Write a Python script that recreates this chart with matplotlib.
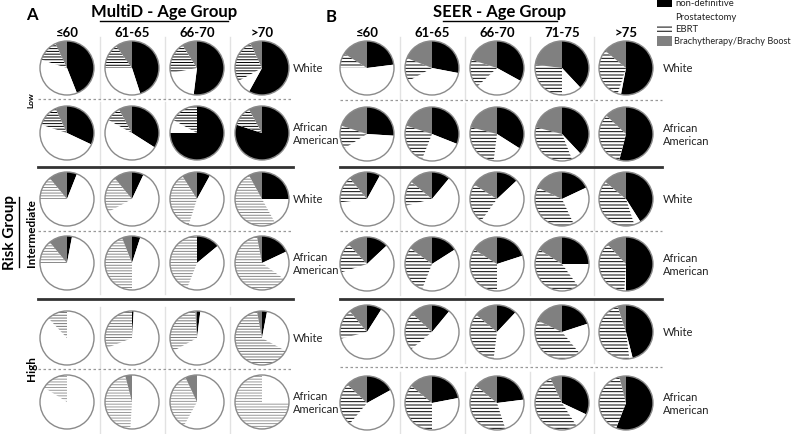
import matplotlib
matplotlib.use('Agg')
import matplotlib.pyplot as plt
import matplotlib.patches as mpatches

plt.rcParams['font.family'] = ['Lato', 'DejaVu Sans']
plt.rcParams['hatch.linewidth'] = 0.7

# treatment shares (%) per row: Low W, Low AA, Int W, Int AA, High W, High AA
treatments = ['non-definitive', 'Prostatectomy', 'EBRT', 'Brachytherapy/Brachy Boost']
races = ['White', 'African\nAmerican']
risk_groups = ['Low', 'Intermediate', 'High']

md_ages = ['≤60', '61-65', '66-70', '>70']
md_nondef = [[44, 45, 52, 58], [32, 34, 75, 80], [6, 7, 8, 25], [3, 5, 14, 18], [0, 1, 2, 3], [0, 0, 0, 0]]
md_prost = [[36, 30, 20, 9], [48, 49, 8, 0], [69, 60, 47, 17], [72, 45, 42, 17], [88, 68, 65, 30], [84, 51, 58, 25]]
md_ebrt = [[13, 15, 19, 26], [13, 9, 17, 12], [14, 22, 36, 50], [14, 44, 44, 62], [12, 31, 32, 64], [16, 45, 35, 75]]
md_brachy = [[7, 10, 9, 7], [7, 8, 0, 8], [11, 11, 9, 8], [11, 6, 0, 3], [0, 0, 1, 3], [0, 4, 7, 0]]

seer_ages = ['≤60', '61-65', '66-70', '71-75', '>75']
seer_nondef = [[23, 28, 33, 38, 53], [26, 31, 34, 38, 54], [8, 11, 13, 18, 41], [13, 16, 20, 25, 50], [9, 11, 12, 20, 46], [17, 22, 23, 32, 56]]
seer_prost = [[52, 39, 30, 12, 2], [40, 25, 18, 6, 0], [65, 60, 47, 25, 4], [57, 40, 30, 15, 1], [62, 53, 40, 19, 2], [44, 28, 22, 9, 0]]
seer_ebrt = [[9, 14, 17, 27, 31], [14, 24, 27, 35, 33], [16, 15, 24, 39, 41], [18, 29, 34, 44, 37], [18, 23, 34, 43, 47], [26, 36, 41, 52, 40]]
seer_brachy = [[16, 19, 20, 23, 14], [20, 20, 21, 21, 13], [11, 14, 16, 18, 14], [12, 15, 16, 16, 12], [11, 13, 14, 18, 5], [13, 14, 14, 7, 4]]

GRAY = '#808080'
R = 27

fig = plt.figure(figsize=(8, 4.35), dpi=100)
ax = fig.add_axes([0, 0, 1, 1])


def draw_panel(xs, ys, nondef, prost, ebrt, brachy, hatch_colors, hatch):
    for i, y in enumerate(ys):
        for j, x in enumerate(xs):
            vals = [nondef[i][j], prost[i][j], ebrt[i][j], brachy[i][j]]
            wedges, _ = ax.pie(vals, colors=['black', 'white', 'white', GRAY],
                               startangle=-90, counterclock=True,
                               center=(x, y), radius=R, frame=True,
                               hatch=['', '', hatch, ''],
                               wedgeprops=dict(linewidth=0))
            wedges[2].set_edgecolor(hatch_colors[i])
            ax.add_patch(mpatches.Circle((x, y), R, fill=False, edgecolor='#8a8a8a', lw=1, zorder=3))
        # light column separators
        for j in range(len(xs) - 1):
            xm = (xs[j] + xs[j + 1]) / 2
            ax.plot([xm, xm], [y - 31, y + 31], color='#e2e2e2', lw=1, zorder=0)


# panel A
a_x = [67, 132, 197, 262]
a_y = [69, 134, 200, 264, 339, 403]
draw_panel(a_x, a_y, md_nondef, md_prost, md_ebrt, md_brachy,
           ['black', 'black', '#888888', '#888888', '#777777', '#999999'], '------')

# panel B
b_x = [367, 432, 497, 562, 626]
b_y = [69, 135, 200, 265, 333, 404]
draw_panel(b_x, b_y, seer_nondef, seer_prost, seer_ebrt, seer_brachy, ['black'] * 6, '-----')

# separators
for x0, x1 in [(38, 293), (340, 662)]:
    for yl in [168, 300]:
        ax.plot([x0, x1], [yl, yl], color='#333333', lw=2, zorder=0)
ax.plot([38, 293], [100, 100], color='#999999', lw=0.9, ls=(0, (2, 2)))
ax.plot([38, 293], [232, 232], color='#999999', lw=0.9, ls=(0, (2, 2)))
ax.plot([38, 293], [370, 370], color='#999999', lw=0.9, ls=(0, (2, 2)))
ax.plot([340, 662], [101, 101], color='#999999', lw=0.9, ls=(0, (2, 2)))
ax.plot([340, 662], [232, 232], color='#999999', lw=0.9, ls=(0, (2, 2)))
ax.plot([340, 662], [368, 368], color='#999999', lw=0.9, ls=(0, (2, 2)))

# race labels
for ys, xl in [(a_y, 293), (b_y, 663)]:
    for i, y in enumerate(ys):
        ax.text(xl, y, races[i % 2], fontsize=8, ha='left', va='center',
                color='#222222', linespacing=1.3)

# column headers
for x, lab in zip(a_x, md_ages):
    ax.text(x, 33, lab, fontsize=9.5, fontweight='bold', ha='center', va='center')
for x, lab in zip(b_x, seer_ages):
    ax.text(x, 33, lab, fontsize=9.5, fontweight='bold', ha='center', va='center')

ax.text(32, 15, 'A', fontsize=12, fontweight='bold', ha='center', va='center')
ax.text(331, 17, 'B', fontsize=12, fontweight='bold', ha='center', va='center')
ax.text(164, 12, 'MultiD - Age Group', fontsize=12, fontweight='bold', ha='center', va='center')
ax.plot([100, 228], [22, 22], color='black', lw=1)
ax.text(500, 12, 'SEER - Age Group', fontsize=12, fontweight='bold', ha='center', va='center')
ax.plot([443, 557], [22, 22], color='black', lw=1)

# risk group labels
ax.text(10, 233, 'Risk Group', fontsize=11, fontweight='bold', rotation=90, ha='center', va='center')
ax.plot([18.5, 18.5], [198, 268], color='black', lw=1)
ax.text(31, 100, risk_groups[0], fontsize=6, fontweight='bold', rotation=90, ha='center', va='center')
ax.text(31, 233, risk_groups[1], fontsize=8.5, fontweight='bold', rotation=90, ha='center', va='center')
ax.text(31, 369, risk_groups[2], fontsize=8.5, fontweight='bold', rotation=90, ha='center', va='center')

# legend
ax.add_patch(mpatches.Rectangle((657, -2), 15, 10, facecolor='black', edgecolor='black', lw=0))
ax.text(675, 4, treatments[0], fontsize=6.8, ha='left', va='center', color='#222222')
ax.text(675, 17, treatments[1], fontsize=6.8, ha='left', va='center', color='#222222')
ax.add_patch(mpatches.Rectangle((657, 26), 15, 8, facecolor='white', edgecolor='black', lw=0, hatch='----'))
ax.text(675, 30, treatments[2], fontsize=6.8, ha='left', va='center', color='#222222')
ax.add_patch(mpatches.Rectangle((657, 37), 15, 10, facecolor=GRAY, edgecolor=GRAY, lw=0))
ax.text(674, 42, treatments[3], fontsize=6.6, ha='left', va='center', color='#222222')

ax.set_xlim(0, 800)
ax.set_ylim(435, 0)
ax.set_aspect('equal')
ax.axis('off')

fig.savefig('out.png', dpi=100)
